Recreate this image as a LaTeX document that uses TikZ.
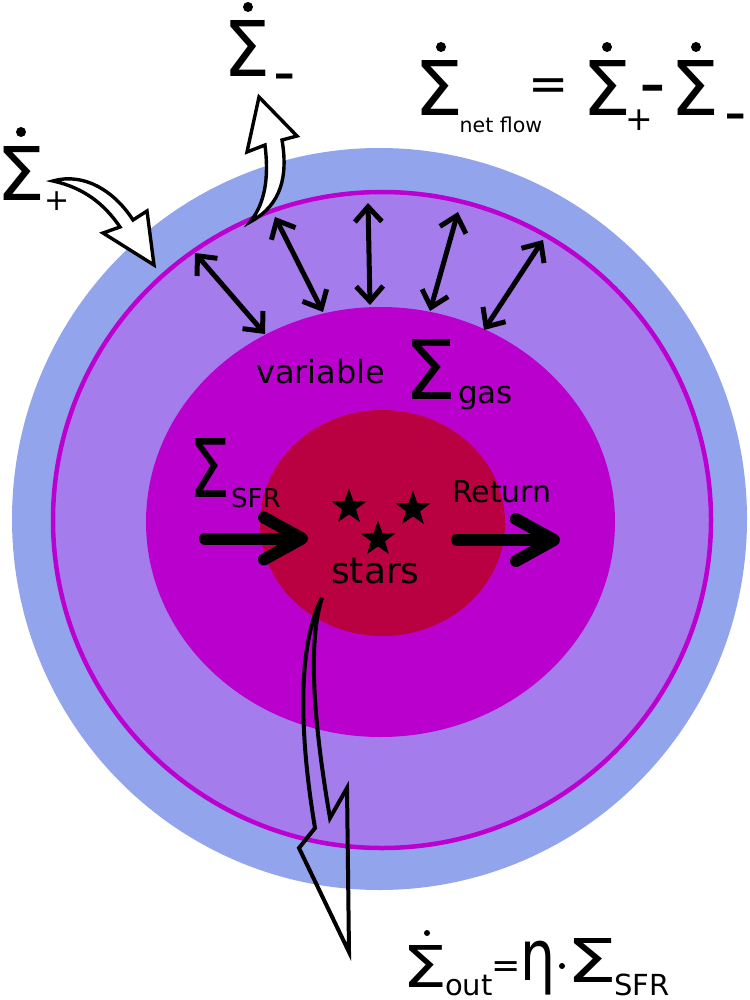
\documentclass[tikz,border=0pt]{standalone}
\usepackage{fontspec}
\setmainfont{DejaVu Sans}
\usepackage{graphicx}
\usetikzlibrary{arrows.meta, shapes.geometric, positioning}

\definecolor{halo}{HTML}{92A4EC}
\definecolor{disc}{HTML}{A57CEC}
\definecolor{rim}{HTML}{BB00D0}
\definecolor{gasc}{HTML}{BA00CC}
\definecolor{core}{HTML}{B90040}

\newcommand{\fsz}[1]{\fontsize{#1}{#1}\selectfont}
\newcommand{\bigsig}[2]{\resizebox{#1}{#2}{Σ}}

\begin{document}
\begin{tikzpicture}[x=1pt, y=-1pt,
	txt/.style={inner sep=0pt, anchor=base west},
	sym/.style={inner sep=0pt, anchor=base},
	sig/.style={inner sep=0pt},
	flux/.style={line width=5pt, {Straight Barb[length=15pt,width=27pt]}-{Straight Barb[length=15pt,width=27pt]}},
	fat/.style={line width=12pt, line cap=round, -{Straight Barb[length=38pt,width=42pt,round]}},
	hollow/.style={draw=black, line width=3.4pt, line join=miter},
	starmark/.style={star, star points=5, star point ratio=2.5, fill=black, minimum size=37pt, inner sep=0pt}]
	
	\useasboundingbox (0,0) rectangle (749,1000);
	
	% the discs
	\fill[halo] (379.5,519) ellipse [x radius=367.5, y radius=371];
	\fill[disc] (382,520) ellipse [x radius=329, y radius=328];
	\draw[rim, line width=4.5pt] (382,520) ellipse [x radius=329, y radius=328];
	\fill[gasc] (380.5,522) ellipse [x radius=234.5, y radius=215];
	\fill[core] (382.5,523) ellipse [x radius=122.5, y radius=113];
	
	% exchange between the rings
	\foreach \ax/\ay/\bx/\by [count=\i] in {195/253/265/334, 275/217/323/312, 368/203/370/305, 458/212/430/311, 543/240/484/330}
	{
		\coordinate (top\i) at (\ax,\ay);
		\coordinate (low\i) at (\bx,\by);
		\draw[flux] (top\i) -- (low\i);
	}
	
	% star formation and return
	\coordinate (sfrin) at (205,538.5);
	\coordinate (sfrend) at (308,538.5);
	\draw[fat] (sfrin) -- (sfrend);
	\coordinate (retin) at (457,540);
	\coordinate (retend) at (560,540);
	\draw[fat] (retin) -- (retend);
	
	\node[starmark] (star1) at (349,507) {};
	\node[starmark] (star2) at (413,509) {};
	\node[starmark] (star3) at (378,539) {};
	
	% inflow, outflow
	\coordinate (inflow) at (53,181);
	\draw[hollow, fill=white] (inflow) .. controls (85,172) and (115,192) .. (133,220) -- (147,211) -- (154,265) -- (103,233) -- (120,227) .. controls (105,205) and (85,188) .. (inflow) -- cycle;
	\coordinate (loss) at (250,222);
	\draw[hollow, fill=white] (loss) .. controls (268,200) and (268,170) .. (265,145) -- (247,152) -- (259,97) -- (297,136) -- (282,140) .. controls (288,175) and (282,205) .. (loss) -- cycle;
	\coordinate (wind) at (322,598);
	\draw[hollow, line width=4pt] (wind) .. controls (300,640) and (297,720) .. (315,828) -- (299,848) -- (349,952) -- (347,788) -- (330,818) .. controls (313,720) and (308,640) .. (wind) -- cycle;
	
	% labels inside
	\node[txt, font=\fsz{32}] (varlbl) at (256,383) {variable};
	\node[sig] (sgas) at (430.5,369) {\bigsig{52pt}{60pt}};
	\node[txt, font=\fsz{31}] (gaslbl) at (458,403) {gas};
	\node[sig] (ssfr) at (210,467.5) {\bigsig{41pt}{59pt}};
	\node[txt, font=\fsz{26}] (sfrlbl) at (231,507) {SFR};
	\node[txt, font=\fsz{30}] (retlbl) at (452,502) {Return};
	\node[txt, font=\fsz{36}] (starlbl) at (331,583) {stars};
	
	% Sigma minus
	\node[sig] (sminus) at (247.5,48) {\bigsig{47pt}{56pt}};
	\fill (248,7) circle (5);
	\node[sym, font=\fsz{62}] (minus1) at (284.5,94) {-};
	
	% Sigma plus
	\node[sig] (splus) at (21.5,173) {\bigsig{49pt}{54pt}};
	\fill (21,132) circle (5);
	\node[sym, font=\fsz{30}] (plus1) at (57.5,211) {+};
	
	% net flow
	\node[sig] (snet) at (439.5,87.5) {\bigsig{49pt}{55pt}};
	\fill (441,47) circle (5);
	\node[txt, font=\fsz{20.5}] (netlbl) at (459.5,133) {net flow};
	\node[sym, font=\fsz{48}] (eq1) at (548.5,101) {=};
	\node[sig] (splus2) at (606.5,87.5) {\bigsig{49pt}{55pt}};
	\fill (607,47) circle (5);
	\node[sym, font=\fsz{33}] (plus2) at (639.5,130.5) {+};
	\node[sym, font=\fsz{74}] (minusop) at (653,108.5) {-};
	\node[sig] (sminus2) at (694.5,87.5) {\bigsig{49pt}{55pt}};
	\fill (696,47) circle (5);
	\node[sym, font=\fsz{62}] (minus2) at (735.5,134) {-};
	
	% outflow law
	\node[sig] (sout) at (425,966) {\bigsig{45pt}{42pt}};
	\fill (427,933) circle (3);
	\node[txt, font=\fsz{29}] (outlbl) at (445,995) {out};
	\node[sym, font=\fsz{35}] (eq2) at (506,977) {=};
	\node[sig] (eta) at (538,968) {\resizebox*{35pt}{54pt}{η}};
	\fill (562,966) circle (3);
	\node[sig] (ssfr2) at (592,960) {\bigsig{51pt}{44pt}};
	\node[txt, font=\fsz{29}] (sfrlbl2) at (614,995) {SFR};
\end{tikzpicture}
\end{document}
